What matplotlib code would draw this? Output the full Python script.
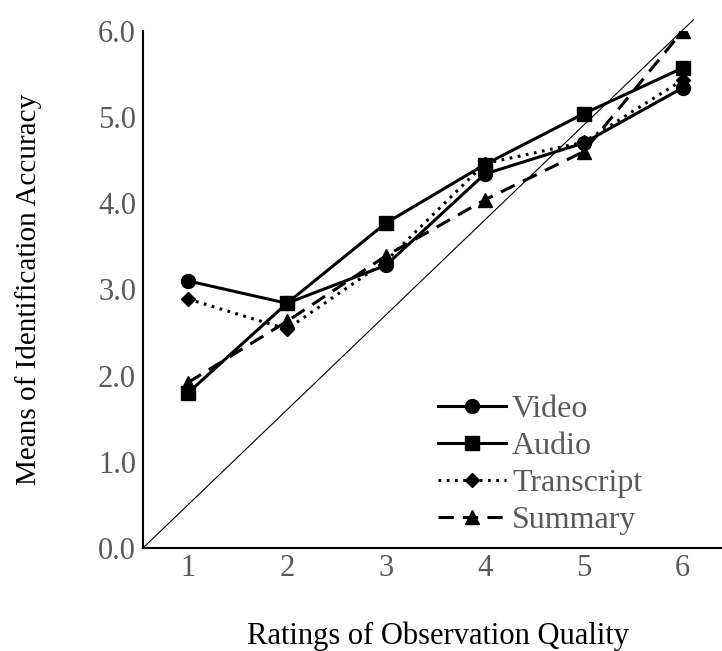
import matplotlib.pyplot as plt

# ratings of observation quality (categories)
ratings = [1, 2, 3, 4, 5, 6]

video = [3.10, 2.84, 3.28, 4.34, 4.70, 5.34]
audio = [1.80, 2.84, 3.77, 4.45, 5.04, 5.57]
transcript = [2.89, 2.54, 3.33, 4.46, 4.71, 5.43]
summary = [1.92, 2.63, 3.39, 4.04, 4.60, 6.00]

plt.rcParams['font.family'] = ['Liberation Serif', 'DejaVu Serif']

fig = plt.figure(figsize=(7.22, 6.51), dpi=100)
ax = fig.add_axes([143 / 722, 103 / 651, 589 / 722, 517 / 651])

# thin reference diagonal
ax.plot([0.545, 6.11], [0, 6.13], color='black', linewidth=0.8, clip_on=False, zorder=1)

ax.plot(ratings, video, color='black', linewidth=2.2, marker='o', markersize=10,
        label='Video', zorder=3)
ax.plot(ratings, audio, color='black', linewidth=2.2, marker='s', markersize=9.5,
        label='Audio', zorder=3)
ax.plot(ratings, transcript, color='black', linewidth=2.2, linestyle=(0, (0.9, 1.8)),
        marker='D', markersize=7.5, label='Transcript', zorder=3)
ax.plot(ratings, summary, color='black', linewidth=2.2, linestyle=(0, (5, 3)),
        marker='^', markersize=10, label='Summary', zorder=3)

ax.set_xlim(0.545, 6.5)
ax.set_ylim(0, 6)
ax.set_xticks(ratings)
ax.set_yticks([0, 1, 2, 3, 4, 5, 6])
ax.set_yticklabels([f'{v:.1f}' for v in range(7)])
ax.tick_params(length=0, labelsize=22, labelcolor='#595959')
ax.tick_params(axis='x', pad=4)
ax.tick_params(axis='y', pad=5)

for s in ['top', 'right']:
    ax.spines[s].set_visible(False)
for s in ['left', 'bottom']:
    ax.spines[s].set_linewidth(1.5)

ax.set_xlabel('Ratings of Observation Quality', fontsize=22, labelpad=28)
ax.set_ylabel('Means of Identification Accuracy', fontsize=21, labelpad=40)

leg = ax.legend(loc='lower left', bbox_to_anchor=(0.48, 0.0), frameon=False,
                fontsize=23, handlelength=2.1, handletextpad=0.2,
                labelspacing=0.24, borderaxespad=0)
for t in leg.get_texts():
    t.set_color('#595959')

fig.savefig('out.png', dpi=100)
